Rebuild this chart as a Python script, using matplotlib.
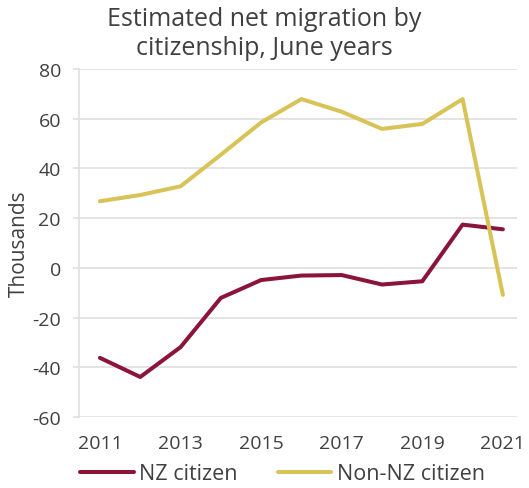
import matplotlib
matplotlib.use("Agg")
import matplotlib.pyplot as plt

years = [2011, 2012, 2013, 2014, 2015, 2016, 2017, 2018, 2019, 2020, 2021]
nz_citizen = [-36.2, -43.9, -31.9, -12.1, -4.9, -3.1, -2.9, -6.7, -5.4, 17.4, 15.5]
non_nz_citizen = [26.8, 29.3, 32.8, 45.5, 58.5, 67.9, 62.8, 55.9, 57.9, 67.9, -10.9]
series_names = ["NZ citizen", "Non-NZ citizen"]
x_ticks = [2011, 2013, 2015, 2017, 2019, 2021]
y_ticks = [-60, -40, -20, 0, 20, 40, 60, 80]
title = "Estimated net migration by\ncitizenship, June years"
y_label = "Thousands"

plt.rcParams['font.family'] = ['Open Sans', 'DejaVu Sans']
plt.rcParams['axes.unicode_minus'] = False
txt = "#404040"
grid_c = "#e3e0e0"

fig = plt.figure(figsize=(5.29, 4.89), dpi=100)
ax = fig.add_axes([79/529, 1-418/489, (517-79)/529, (418-70)/489])

ax.plot(years, nz_citizen, color="#8a1538", lw=2.9, label=series_names[0], solid_capstyle="round", zorder=3)
ax.plot(years, non_nz_citizen, color="#d8c358", lw=2.9, label=series_names[1], solid_capstyle="round", zorder=3)

ax.set_ylim(-60, 80)
ax.set_xlim(2010.48, 2021.35)
ax.set_yticks(y_ticks)
ax.set_xticks(x_ticks)
ax.grid(axis="y", color=grid_c, lw=1.3, zorder=0)
for s in ["top", "right", "bottom"]:
    ax.spines[s].set_visible(False)
ax.spines["left"].set_color(grid_c)
ax.spines["left"].set_linewidth(1.3)
ax.tick_params(axis="y", length=4.5, color=grid_c, width=1.3, labelsize=14, labelcolor=txt, pad=8.5)
ax.tick_params(axis="x", length=0, labelsize=14, labelcolor=txt, pad=12)
ax.set_ylabel(y_label, fontsize=15, color=txt, labelpad=2)

fig.text(0.5, 1-7/489, title, ha="center", va="top", fontsize=18, color=txt, linespacing=1.2)

leg = fig.legend(loc="center", bbox_to_anchor=(0.534, 1-475/489), ncol=2, frameon=False,
                 fontsize=15.5, handlelength=2.5, handletextpad=0.25, columnspacing=1.85,
                 labelcolor=txt, borderpad=0)

fig.savefig("out.png", dpi=100)
